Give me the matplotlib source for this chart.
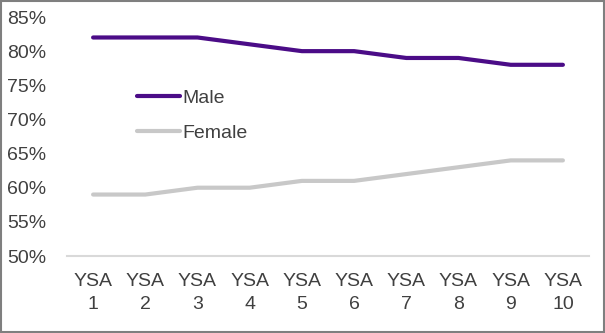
import matplotlib
matplotlib.use("Agg")
import matplotlib.pyplot as plt
from matplotlib.patches import Rectangle
from matplotlib.ticker import FuncFormatter

categories = ["YSA\n1", "YSA\n2", "YSA\n3", "YSA\n4", "YSA\n5",
              "YSA\n6", "YSA\n7", "YSA\n8", "YSA\n9", "YSA\n10"]
male = [82, 82, 82, 81, 80, 80, 79, 79, 78, 78]
female = [59, 59, 60, 60, 61, 61, 62, 63, 64, 64]
y_ticks = [50, 55, 60, 65, 70, 75, 80, 85]

plt.rcParams["font.family"] = ["Liberation Sans", "DejaVu Sans"]

W, H = 605, 333
fig = plt.figure(figsize=(W / 100, H / 100), dpi=100)
ax = fig.add_axes([67 / W, 1 - 256 / H, (589 - 67) / W, (256 - 17) / H])

x = list(range(1, len(categories) + 1))
ax.plot(x, male, color="#4B0C87", lw=3, solid_capstyle="round", label="Male")
ax.plot(x, female, color="#C8C8C8", lw=3, solid_capstyle="round", label="Female")

ax.set_xlim(0.5, len(categories) + 0.5)
ax.set_ylim(50, 85)
ax.set_yticks(y_ticks)
ax.yaxis.set_major_formatter(FuncFormatter(lambda v, _: f"{v:.0f}%"))
ax.set_xticks(x)
ax.set_xticklabels(categories, linespacing=1.45)

for s in ["top", "right", "left"]:
    ax.spines[s].set_visible(False)
ax.spines["bottom"].set_color("#D9D9D9")
ax.spines["bottom"].set_linewidth(1.5)

ax.tick_params(axis="y", length=0, pad=15, labelsize=14, labelcolor="#404040")
ax.tick_params(axis="x", length=0, pad=12, labelsize=14, labelcolor="#404040")

leg = ax.legend(loc="upper left", bbox_to_anchor=(137 / W, 1 - 89 / H),
                bbox_transform=fig.transFigure, frameon=False, fontsize=14,
                handlelength=2.2, handletextpad=0.15, labelspacing=0.9,
                borderpad=0, borderaxespad=0)
for t in leg.get_texts():
    t.set_color("#404040")

fig.patches.append(Rectangle((0.002, 0.003), 0.996, 0.994, transform=fig.transFigure,
                             fill=False, edgecolor="#7F7F7F", lw=1.5))

fig.savefig("out.png", dpi=100)
